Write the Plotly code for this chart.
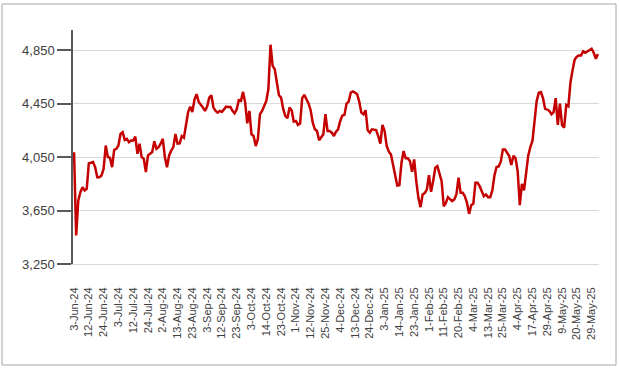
import plotly.graph_objects as go

# Tick labels shown on the category axis (every 7th trading day)
tick_labels = [
    "3-Jun-24", "12-Jun-24", "24-Jun-24", "3-Jul-24", "12-Jul-24", "24-Jul-24",
    "2-Aug-24", "13-Aug-24", "23-Aug-24", "3-Sep-24", "12-Sep-24", "23-Sep-24",
    "3-Oct-24", "14-Oct-24", "23-Oct-24", "1-Nov-24", "12-Nov-24", "25-Nov-24",
    "4-Dec-24", "13-Dec-24", "24-Dec-24", "3-Jan-25", "14-Jan-25", "23-Jan-25",
    "1-Feb-25", "11-Feb-25", "20-Feb-25", "4-Mar-25", "13-Mar-25", "25-Mar-25",
    "4-Apr-25", "17-Apr-25", "29-Apr-25", "9-May-25", "20-May-25", "29-May-25",
]
tick_step = 7

# Daily closing values
values = [
    4086, 3463, 3725, 3787, 3824, 3800, 3812, 4004, 4007, 4012,
    3974, 3899, 3899, 3912, 3962, 4136, 4049, 4044, 3974, 4104,
    4111, 4136, 4223, 4236, 4178, 4186, 4161, 4173, 4173, 4203,
    4074, 4149, 4049, 4037, 3937, 4062, 4074, 4087, 4168, 4111,
    4124, 4149, 4186, 4049, 3974, 4062, 4099, 4124, 4223, 4150,
    4152, 4207, 4195, 4282, 4387, 4427, 4387, 4480, 4520, 4462,
    4445, 4420, 4395, 4427, 4495, 4512, 4420, 4395, 4382, 4395,
    4387, 4407, 4427, 4425, 4425, 4395, 4377, 4407, 4475, 4470,
    4537, 4457, 4302, 4395, 4220, 4207, 4132, 4182, 4370, 4395,
    4432, 4470, 4560, 4890, 4732, 4707, 4607, 4512, 4495, 4410,
    4357, 4340, 4420, 4400, 4315, 4320, 4290, 4300, 4490, 4515,
    4482, 4450, 4400, 4307, 4257, 4245, 4175, 4200, 4220, 4370,
    4245, 4245, 4232, 4207, 4240, 4257, 4320, 4360, 4365, 4450,
    4465, 4532, 4540, 4532, 4520, 4465, 4382, 4370, 4400, 4250,
    4232, 4257, 4257, 4252, 4207, 4150, 4290, 4245, 4132, 4090,
    4070, 3995, 3907, 3837, 3840, 4007, 4095, 4040, 4040, 4020,
    3940, 4032, 3870, 3745, 3675, 3770, 3780, 3807, 3915, 3790,
    3870, 3970, 3982, 3920, 3870, 3682, 3707, 3750, 3737, 3720,
    3732, 3770, 3895, 3782, 3782, 3757, 3707, 3625, 3690, 3700,
    3857, 3857, 3832, 3795, 3757, 3770, 3750, 3750, 3800, 3912,
    3975, 3980, 4015, 4107, 4107, 4082, 4057, 3990, 4060, 4040,
    3945, 3690, 3850, 3800, 3930, 4060, 4125, 4170, 4320, 4470,
    4530, 4535, 4490, 4410, 4405, 4395, 4370, 4385, 4490, 4290,
    4450, 4290, 4270, 4440, 4430, 4610, 4700, 4780, 4800, 4810,
    4810, 4840, 4830, 4840, 4850, 4860, 4830, 4785, 4820,
]

y_ticks = [3250, 3650, 4050, 4450, 4850]
y_range = [3250, 5000]

x_idx = list(range(len(values)))
tick_pos = [i * tick_step for i in range(len(tick_labels))]

FONT = "Liberation Sans, Arial, sans-serif"

fig = go.Figure()
fig.add_trace(go.Scatter(
    x=x_idx, y=values, mode="lines",
    line=dict(color="#c40000", width=2.5),
    hoverinfo="skip",
))

L, R, T, B = 73, 20, 30, 104
W, H = 619, 368
pw, ph = W - L - R, H - T - B

fig.update_layout(
    width=W, height=H,
    margin=dict(l=L, r=R, t=T, b=B, pad=0),
    paper_bgcolor="white", plot_bgcolor="white",
    showlegend=False,
    font=dict(family=FONT, color="#404040"),
    xaxis=dict(
        range=[-0.5, len(values) - 0.5],
        tickmode="array", tickvals=tick_pos, ticktext=tick_labels,
        tickangle=-90, tickfont=dict(size=11, color="#404040"),
        showgrid=False, zeroline=False,
        showline=True, linecolor="#d9d9d9", linewidth=1,
        ticks="", ticklabelstandoff=18,
        automargin=False,
    ),
    yaxis=dict(
        range=y_range,
        tickmode="array", tickvals=y_ticks,
        tickformat=",d",
        tickfont=dict(size=13, color="#404040"),
        showgrid=True, gridcolor="#d9d9d9", gridwidth=1,
        zeroline=False,
        showline=True, linecolor="#595959", linewidth=1.5,
        ticks="outside", ticklen=14, tickcolor="#595959", tickwidth=1.5,
        automargin=False,
    ),
    shapes=[dict(
        type="rect", xref="paper", yref="paper",
        x0=(2 - L) / pw, x1=(616 - L) / pw,
        y0=(T + ph - 365) / ph, y1=(T + ph - 4) / ph,
        line=dict(color="#a6a6a6", width=1), fillcolor="rgba(0,0,0,0)",
        layer="below",
    )],
)

fig.write_html(
    "out.html",
    config={"displayModeBar": False},
    post_script="document.body.style.margin='0px';document.body.style.padding='0px';",
)
